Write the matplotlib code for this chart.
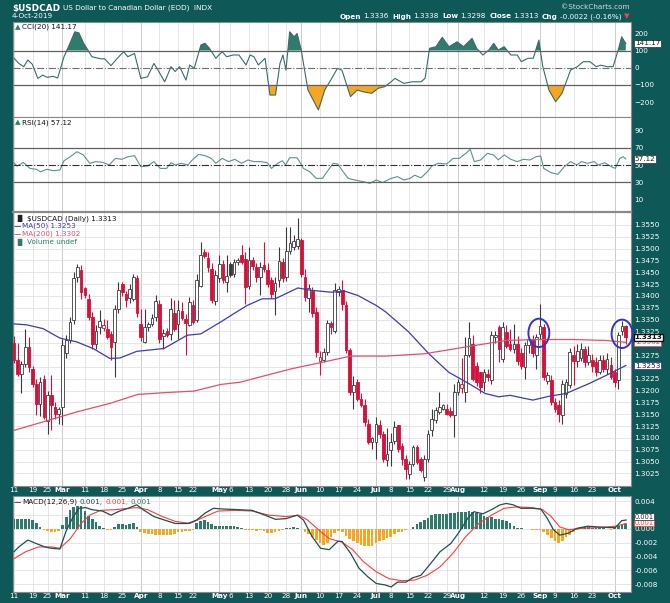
"""StockCharts-style USDCAD daily chart: CCI, RSI, candles with MAs, MACD."""
import matplotlib
matplotlib.use("Agg")
import matplotlib.pyplot as plt
import matplotlib.transforms as mtransforms
import numpy as np
import pandas as pd
from matplotlib.patches import Ellipse

plt.rcParams["font.family"] = ["DejaVu Sans"]

# ---- data (prices in pips above 1.3000) -------------------------------------
HOLIDAYS = ["2019-02-18", "2019-04-19", "2019-05-27", "2019-07-04", "2019-09-02"]

opens = [300, 265, 236, 257, 292, 245, 213, 172, 225, 135, 190, 165, 151,
         165, 280, 306, 350, 440, 454, 417, 393, 356, 299, 334, 332, 331, 320, 303, 373, 426, 405, 395, 394, 437,
         341, 303, 334, 341, 356, 382, 315, 327, 320, 365, 340, 368, 351, 338, 380, 349, 421, 493, 480, 456, 389,
         438, 468, 430, 468, 447, 472, 486, 479, 421, 475, 461, 440, 466, 454, 433, 410, 433, 472, 440, 494, 503, 505,
         518, 440, 396, 410, 366, 262, 264, 282, 342, 327, 408, 412, 380, 285, 197, 218, 183, 169, 130, 92,
         92, 127, 109, 53, 74, 93, 127, 84, 56, 24, 46, 81, 56, 18, 56, 116, 137, 155, 162, 162, 157, 148,
         197, 205, 197, 275, 299, 253, 239, 218, 236, 222, 313, 334, 267, 324, 299, 289, 299, 280, 250, 296, 310, 275,
         320, 334, 220, 222, 176, 169, 148, 193, 211, 275, 262, 268, 289, 260, 265, 260, 239, 264, 245, 255,
         239, 222, 325, 336]
highs = [316, 300, 262, 331, 313, 252, 225, 229, 234, 199, 232, 175, 165,
         310, 318, 356, 451, 468, 465, 420, 405, 366, 338, 370, 352, 349, 327, 380, 430, 430, 410, 426, 447, 445,
         373, 373, 345, 362, 402, 391, 331, 333, 396, 391, 391, 387, 362, 398, 391, 447, 515, 500, 493, 470, 455,
         486, 475, 487, 472, 478, 480, 507, 493, 503, 482, 470, 472, 513, 470, 440, 440, 503, 480, 546, 546, 528, 565,
         522, 458, 426, 420, 376, 284, 290, 350, 348, 428, 422, 433, 390, 290, 230, 225, 195, 183, 140, 103,
         144, 137, 115, 120, 110, 136, 128, 90, 63, 52, 85, 85, 60, 63, 117, 162, 165, 197, 172, 172, 165, 215,
         225, 268, 314, 345, 318, 260, 240, 245, 245, 327, 325, 338, 345, 338, 330, 340, 315, 290, 303, 300, 318, 320,
         384, 340, 240, 232, 185, 180, 222, 225, 290, 295, 299, 300, 295, 295, 278, 270, 275, 275, 280, 270,
         246, 324, 348, 338]
lows = [258, 230, 194, 250, 240, 208, 148, 146, 140, 109, 116, 140, 130,
        127, 268, 300, 340, 430, 394, 395, 350, 289, 289, 320, 325, 310, 264, 229, 365, 400, 377, 385, 390, 355,
        305, 301, 325, 336, 348, 300, 289, 314, 306, 325, 310, 350, 275, 336, 340, 344, 418, 480, 451, 385, 380,
        430, 428, 409, 440, 440, 465, 468, 384, 415, 455, 430, 401, 450, 420, 395, 359, 420, 430, 432, 488, 498, 500,
        440, 390, 366, 355, 270, 232, 260, 275, 320, 322, 400, 370, 280, 190, 162, 178, 165, 125, 88, 77,
        56, 100, 50, 40, 40, 88, 70, 42, 14, 14, 40, 45, 28, 10, 50, 105, 132, 150, 158, 148, 145, 102,
        190, 195, 175, 270, 220, 210, 195, 200, 220, 215, 300, 260, 260, 290, 284, 280, 255, 245, 225, 280, 270, 246,
        310, 222, 215, 170, 155, 134, 130, 185, 205, 211, 250, 262, 250, 255, 240, 230, 235, 240, 235, 225,
        207, 204, 318, 298]
closes = [265, 236, 257, 292, 249, 213, 172, 218, 144, 190, 170, 151, 161,
          296, 306, 345, 437, 461, 408, 401, 356, 299, 327, 348, 338, 313, 292, 373, 412, 408, 391, 415, 440, 363,
          313, 334, 341, 353, 389, 310, 322, 318, 373, 331, 370, 354, 342, 387, 345, 433, 486, 485, 461, 391, 445,
          468, 433, 442, 445, 472, 475, 472, 419, 475, 463, 440, 461, 458, 426, 405, 428, 473, 437, 496, 512, 516, 520,
          447, 398, 417, 363, 282, 270, 282, 342, 335, 412, 415, 384, 285, 197, 211, 183, 169, 134, 92, 99,
          130, 109, 56, 67, 92, 123, 77, 56, 35, 46, 81, 50, 32, 56, 109, 141, 158, 165, 169, 151, 149, 197,
          219, 215, 275, 311, 225, 218, 208, 239, 229, 317, 318, 289, 334, 295, 289, 299, 262, 252, 296, 310, 280, 313,
          337, 229, 232, 176, 162, 151, 215, 218, 282, 262, 283, 289, 260, 275, 253, 239, 264, 245, 266, 229,
          218, 317, 337, 313]

ma50_days = [0, 3.4, 7.8, 12.3, 16.8, 21.2, 25.7, 28.4, 32.9, 40.2, 46.4, 50.1, 55.4, 59.0, 62.5, 66.5, 70.0,
             76.1, 79.6, 85.0, 88.7, 92.2, 97.1, 99.7, 101.3, 105.8, 111.2, 116.5, 121.9, 126.3, 129.9, 133.0,
             139.1, 143.4, 148.0, 154.2, 158.7, 162.2, 164]
ma50_vals = [341, 339, 331, 311, 303, 289, 268, 269, 283, 289, 317, 320, 345, 363, 380, 394, 394,
             417, 412, 408, 410, 401, 380, 366, 355, 324, 278, 239, 215, 194, 187, 190,
             180, 188, 194, 215, 232, 246, 253]
ma200_days = [0, 7.8, 16.8, 25.7, 33.2, 41.0, 48.3, 55.4, 60.8, 66.5, 74.3, 83.3, 90.3, 99.7, 110.2, 120.9,
              131.9, 140.8, 149.9, 158.7, 164]
ma200_vals = [116, 134, 155, 173, 192, 196, 199, 213, 218, 230, 246, 261, 273, 273, 278, 292,
              306, 308, 308, 306, 302]

cci_days = [0, 1.3, 2.6, 3.7, 4.9, 6.4, 7.7, 8.9, 10.5, 11.7,
            13.4, 14.6, 16.3, 17.4, 18.6, 20.9, 23.2, 24.3, 26.0, 27.7,
            29.4, 30.5, 32.3, 34.0, 35.8, 37.5, 38.6, 40.4, 42.1, 43.2,
            44.4, 46.1, 47.1, 48.3, 50.1, 51.2, 52.4, 54.1, 55.8, 57.0,
            58.7, 60.3, 62.2, 63.3, 64.3, 65.5, 67.3, 68.6, 70.1, 71.3,
            72.1, 72.9, 73.9, 75.1, 75.9, 77.0, 78.8, 81.6, 83.3, 84.9,
            86.7, 87.9, 90.2, 92.0, 93.6, 95.9, 97.6, 99.4, 101.1, 102.1,
            104.5, 106.7, 109.1, 110.2, 111.4, 113.1, 114.8, 116.6, 118.8, 120.5,
            122.8, 124.0, 125.7, 127.3, 128.6, 129.8, 131.4, 133.2, 134.9, 136.0,
            137.8, 139.2, 140.7, 141.7, 143.4, 145.2, 146.9, 149.2, 151.0, 152.6,
            154.4, 156.1, 157.3, 159.0, 160.6, 162.1, 162.9, 164.0]
cci_vals = [55, 25, 6, 45, 20, -62, -43, -56, -50, -60,
            64, 122, 209, 203, 145, 64, 52, 52, 12, 55,
            93, 64, 83, -62, -53, 25, -14, -82, 6, -22,
            6, -72, 16, -4, 132, 142, 113, 55, 93, 64,
            74, 74, 16, 74, 64, 16, 55, -159, -159, 25,
            74, -14, 209, 180, 199, 103, -130, -246, -130, -72,
            -4, -14, -168, -130, -140, -149, -120, -110, -82, -62,
            -91, -82, -82, -62, 113, 122, 177, 122, 151, 122,
            171, 113, 74, 103, 142, 103, 122, 74, 74, 35,
            55, 55, 161, 12, -130, -198, -149, -14, 6, 35,
            35, 6, 15, 6, 6, 113, 180, 141.17]

rsi_days = [0, 0.8, 2.5, 4.3, 6.0, 7.1, 8.8, 10.6, 12.3, 13.4,
            15.1, 16.9, 18.6, 20.3, 22.0, 23.8, 25.5, 27.2, 28.9, 30.6,
            32.3, 34.0, 35.8, 37.5, 39.2, 40.9, 42.1, 43.2, 44.9, 46.6,
            47.8, 49.5, 51.2, 52.9, 54.1, 55.8, 57.5, 59.2, 61.0, 62.7,
            64.4, 66.1, 67.9, 69.0, 70.7, 71.9, 72.8, 73.9, 75.9, 77.6,
            79.3, 81.0, 82.7, 83.9, 85.6, 86.8, 87.9, 89.6, 91.3, 93.6,
            95.4, 97.1, 98.8, 101.1, 102.8, 104.5, 106.2, 107.4, 109.1, 110.8,
            112.0, 113.7, 116.0, 117.7, 119.4, 121.1, 122.3, 123.4, 125.1, 126.9,
            128.6, 129.8, 131.4, 133.2, 134.9, 136.6, 138.3, 140.0, 141.2, 142.0,
            144.0, 145.8, 147.5, 149.2, 150.9, 152.1, 153.8, 155.5, 156.6, 158.4,
            160.1, 161.2, 162.4, 163.3, 164.0]
rsi_vals = [52.7, 48.8, 53, 46, 45, 42, 45, 43.3, 44.1, 55,
            59.8, 65.6, 61.8, 52, 54, 53.1, 50, 57.8, 56.7, 59.8,
            61, 48, 48.8, 54, 46, 46, 52.7, 50, 52, 50,
            55.9, 62.5, 61, 57.8, 52, 57.8, 54, 56.7, 52, 55.9,
            54, 54, 52.7, 46, 52, 55, 50, 58.6, 58.6, 46,
            42, 34.3, 34.3, 42, 52, 51.2, 44, 34.3, 32.4, 30.4,
            28.5, 32.4, 29.4, 34.3, 36.3, 32.4, 34.3, 38, 35, 42,
            48.8, 52, 51.2, 57.8, 57.8, 63.7, 68.4, 54, 55.9, 63.7,
            61.8, 56, 61.8, 56.7, 54, 56.7, 55.9, 59.8, 60.6, 46,
            41, 39, 48, 54, 50, 54, 52, 54, 50, 52.7,
            48, 46, 57.8, 59.8, 57.12]

# MACD values in units of 0.001
macd_days = [0, 1.3, 3.7, 5.9, 8.3, 10.0, 12.3, 13.9, 15.7, 17.4,
             19.2, 20.9, 23.7, 26.0, 28.3, 30.6, 32.9, 34.6, 37.5, 40.3,
             43.2, 46.6, 49.0, 51.2, 53.5, 55.8, 60.3, 63.8, 67.3, 70.1,
             72.9, 75.9, 77.6, 79.9, 82.2, 84.5, 86.8, 87.9, 90.2, 92.5,
             94.8, 97.1, 99.4, 101.1, 102.8, 105.1, 106.8, 109.1, 111.4, 114.2,
             117.1, 119.4, 121.7, 123.3, 125.7, 128.0, 130.3, 132.0, 133.8, 135.9,
             138.9, 141.2, 142.9, 144.6, 146.3, 148.6, 150.9, 153.8, 156.6, 159.5,
             161.2, 162.9, 164.1]
macd_vals = [-3.3, -2.6, -1.6, -2.1, -2.6, -2.8, -2.9, -0.4, 1.6, 3.0,
             3.1, 2.8, 2.6, 2.0, 2.6, 3.0, 3.5, 2.8, 1.8, 1.3,
             0.8, 0.8, 1.3, 2.3, 3.0, 2.9, 2.8, 2.7, 2.0, 1.4,
             1.5, 2.0, 1.3, -1.1, -2.8, -3.0, -1.8, -1.8, -3.5, -5.7,
             -6.9, -7.9, -8.1, -8.4, -7.7, -7.7, -7.1, -6.7, -5.2, -3.3,
             -2.1, -0.4, 1.6, 2.5, 2.2, 2.8, 3.5, 3.7, 3.5, 3.0,
             3.0, 2.9, 1.6, -0.1, -0.9, -0.6, 0.1, 0.4, 0.3, 0.2,
             0.2, 1.2, 1.3]
signal_days = [0, 3.1, 6.6, 10.0, 12.3, 15.1, 18.0, 20.3, 23.2, 27.1,
               30.6, 32.9, 35.8, 39.8, 43.2, 47.2, 51.2, 54.7, 59.2, 63.8,
               68.4, 72.9, 76.4, 78.7, 81.6, 84.5, 87.9, 90.8, 93.6, 97.1,
               100.5, 103.9, 107.4, 110.8, 114.2, 117.7, 121.1, 124.6, 128.0, 131.4,
               134.9, 138.9, 141.7, 144.0, 146.3, 148.6, 152.0, 156.6, 161.2, 164.1]
signal_vals = [-4.3, -3.3, -2.6, -2.6, -2.8, -1.4, 0.8, 2.0, 2.7, 2.8,
               3.0, 3.1, 2.8, 1.8, 1.1, 0.8, 1.8, 2.6, 2.7, 2.6,
               2.0, 1.8, 2.0, 1.3, -0.1, -1.4, -1.9, -3.0, -4.7, -6.2,
               -7.2, -7.5, -7.4, -6.7, -5.5, -3.5, -1.1, 0.8, 2.0, 3.0,
               3.2, 3.1, 2.8, 1.8, 0.3, -0.1, 0.1, 0.2, 0.4, 0.8]
hist_vals = [1.4, 1.5, 1.5, 1.5, 1.4, 1.3, 0.8, 0.3, -0.2, -0.3,
             -0.4, -0.4, -0.3, 0.6, 1.8, 2.7, 3.2, 3.4, 3.3, 2.6,
             1.9, 1.4, 1.0, 0.5, 0.2, -0.2, -0.1, 0.3, 0.7, 0.7,
             0.6, 0.7, 0.8, 0.3, -0.4, -0.6, -0.7, -0.7, -0.8, -0.8,
             -0.9, -0.8, -0.8, -0.7, -0.5, -0.4, -0.3, -0.3, -0.2, 0.8,
             1.2, 1.3, 1.0, 0.7, 0.5, 0.5, 0.5, 0.5, 0.4, 0.4,
             0.3, 0.1, -0.2, -0.1, -0.2, -0.3, -0.2, -0.3, -0.6, -0.6,
             -0.5, -0.3, -0.1, 0.1, 0.2, 0.3, 0.2, 0.0, -0.4, -0.7,
             -1.1, -1.6, -2.0, -2.3, -2.0, -1.2, -0.6, -0.3, -0.5, -1.0,
             -1.5, -1.8, -2.1, -2.3, -2.4, -2.5, -2.4, -2.1, -1.8, -1.6,
             -1.3, -1.1, -0.7, -0.5, -0.4, -0.2, 0.0, 0.3, 0.7, 1.0,
             1.3, 1.6, 2.0, 2.1, 2.2, 2.2, 2.2, 2.3, 2.3, 2.4,
             2.5, 2.5, 2.6, 2.4, 2.3, 2.1, 1.9, 1.8, 1.7, 1.5,
             1.4, 1.3, 1.1, 0.8, 0.5, 0.2, 0.1, 0.0, 0.0, -0.1,
             -0.1, -0.1, -0.4, -0.8, -1.3, -1.7, -2.0, -1.7, -1.2, -0.9,
             -0.4, -0.1, 0.1, 0.3, 0.3, 0.2, 0.2, 0.1, 0.1, 0.0,
             -0.2, 0.1, 0.4, 0.6, 0.7]

tick_dates = ["2019-02-11", "2019-02-19", "2019-02-25", "2019-03-01", "2019-03-11", "2019-03-18",
              "2019-03-25", "2019-04-01", "2019-04-08", "2019-04-15", "2019-04-22", "2019-05-01",
              "2019-05-06", "2019-05-13", "2019-05-20", "2019-05-28", "2019-06-03", "2019-06-10",
              "2019-06-17", "2019-06-24", "2019-07-01", "2019-07-08", "2019-07-15", "2019-07-22",
              "2019-07-29", "2019-08-01", "2019-08-12", "2019-08-19", "2019-08-26", "2019-09-03",
              "2019-09-09", "2019-09-16", "2019-09-23", "2019-10-01"]
tick_labels = ["11", "19", "25", "Mar", "11", "18", "25", "Apr", "8", "15", "22", "May", "6", "13",
               "20", "28", "Jun", "10", "17", "24", "Jul", "8", "15", "22", "29", "Aug", "12", "19",
               "26", "Sep", "9", "16", "23", "Oct"]

# annotation circles (trading day, price)
circle_days = [140.7, 163.0]
circle_prices = [1.3322, 1.3320]

# ---- styling ------------------------------------------------------------------
TEAL = "#0e5858"
RED = "#d6103c"
BLUE = "#3c3cb0"
MA_RED = "#e0506a"
FILL_TEAL = "#2f7b6c"
ORANGE = "#f5a623"
GRID = "#e2e2e2"
FS = 5.2
W_PX, H_PX = 670, 603
LEFT, RIGHT = 12.7, 631.0

dates = pd.bdate_range("2019-02-11", "2019-10-04", freq="C", holidays=HOLIDAYS)
tick_idx = dates.get_indexer(pd.to_datetime(tick_dates))
month_tick = [not lab.isdigit() for lab in tick_labels]

o = 1.3 + np.array(opens) / 1e4
h = 1.3 + np.array(highs) / 1e4
l = 1.3 + np.array(lows) / 1e4
c = 1.3 + np.array(closes) / 1e4
days = np.arange(len(c))

fig = plt.figure(figsize=(W_PX / 100, H_PX / 100), dpi=100, facecolor=TEAL)


def panel(top, bottom):
    ax = fig.add_axes([LEFT / W_PX, 1 - bottom / H_PX, (RIGHT - LEFT) / W_PX, (bottom - top) / H_PX])
    ax.set_facecolor("white")
    ax.set_xlim(-0.35, 165.4)
    for s in ax.spines.values():
        s.set_color("#8a8a8a")
        s.set_linewidth(0.8)
    ax.yaxis.tick_right()
    ax.tick_params(axis="y", length=0, pad=2.5, labelsize=FS, labelcolor="white")
    ax.tick_params(axis="x", length=0, pad=1.2, labelsize=FS, labelcolor="white")
    for t, is_month in zip(tick_idx, month_tick):
        ax.axvline(t, color="#c4c4c4" if is_month else GRID, lw=0.6, zorder=0)
    ax.set_xticks(tick_idx)
    ax.set_xticklabels([])
    return ax


def date_labels(ax):
    ax.set_xticklabels(tick_labels)
    for lab, is_month in zip(ax.get_xticklabels(), month_tick):
        if is_month:
            lab.set_fontweight("bold")


def pieces(x_px, y_px, parts, size=FS):
    r = fig.canvas.get_renderer()
    x = x_px
    for s, weight, color, gap in parts:
        t = fig.text(x / W_PX, 1 - y_px / H_PX, s, fontsize=size, fontweight=weight,
                     color=color, va="center", ha="left")
        x += t.get_window_extent(r).width + gap


def tag(ax, y, text, edge, color, lw=0.6, weight="normal", z=5, size=FS):
    tr = mtransforms.blended_transform_factory(ax.transAxes, ax.transData)
    ax.text(1.006, y, text, transform=tr, fontsize=size, color=color, fontweight=weight,
            va="center", ha="left", clip_on=False, zorder=z,
            bbox=dict(boxstyle="square,pad=0.08", fc="white", ec=edge, lw=lw))


# ---- CCI -----------------------------------------------------------------------
ax1 = panel(22, 116.7)
cd, cv = np.array(cci_days), np.array(cci_vals)
ax1.fill_between(cd, cv, 100, where=cv > 100, interpolate=True, color=FILL_TEAL, lw=0)
ax1.fill_between(cd, cv, -100, where=cv < -100, interpolate=True, color=ORANGE, lw=0)
ax1.plot(cd, cv, color="#3d6a6a", lw=0.8)
ax1.axhline(100, color="#606060", lw=0.9)
ax1.axhline(-100, color="#606060", lw=0.9)
ax1.axhline(0, color="#707070", lw=0.8, ls="-.")
ax1.set_ylim(-285, 266)
ax1.set_yticks([-200, -100, 0, 100, 200])
tag(ax1, cci_vals[-1], "141.17", "#404040", "#222222")

# ---- RSI -----------------------------------------------------------------------
ax2 = panel(116.7, 212.3)
ax2.plot(rsi_days, rsi_vals, color="#5f8f8f", lw=0.8)
ax2.axhline(70, color="#606060", lw=0.9)
ax2.axhline(30, color="#606060", lw=0.9)
ax2.axhline(50, color="#303030", lw=0.8, ls="-.")
ax2.set_ylim(-5.6, 106.8)
ax2.set_yticks([10, 30, 50, 70, 90])
tag(ax2, rsi_vals[-1], "57.12", "#404040", "#222222")

# ---- price ---------------------------------------------------------------------
ax3 = panel(212.3, 485.7)
ax3.set_ylim(1.29991, 1.35768)
price_ticks = np.arange(1.3025, 1.35501, 0.0025)
ax3.set_yticks(price_ticks)
# the value tags on the right cover the 1.3300 and 1.3250 labels
ax3.set_yticklabels(["" if abs(v - 1.33) < 1e-6 or abs(v - 1.325) < 1e-6 else f"{v:.4f}"
                     for v in price_ticks])
for v in price_ticks:
    ax3.axhline(v, color=GRID, lw=0.6, zorder=0)
ax3.spines["top"].set_linewidth(1.6)

prev = np.concatenate([[o[0]], c[:-1]])
line_col = np.where(c >= prev, "#3a3a3a", RED)
face_col = np.where(c < o, line_col, "white")
ax3.vlines(days, l, h, colors=line_col, lw=0.8, zorder=2)
body = np.maximum(np.abs(c - o), 0.00006)
ax3.bar(days, body, bottom=np.minimum(o, c), width=0.72, color=face_col,
        edgecolor=line_col, linewidth=0.6, zorder=3)
ax3.plot(ma50_days, 1.3 + np.array(ma50_vals) / 1e4, color=BLUE, lw=0.9, zorder=4)
ax3.plot(ma200_days, 1.3 + np.array(ma200_vals) / 1e4, color=MA_RED, lw=0.9, zorder=4)
for d, p in zip(circle_days, circle_prices):
    ax3.add_patch(Ellipse((d, p), 5.6, 0.0060, fill=False, ec="#3434c8", lw=1.4,
                          zorder=6, clip_on=False))
tag(ax3, 1.3302, "1.3302", MA_RED, MA_RED, z=4)
tag(ax3, 1.3313, "1.3313", "#111111", "#111111", lw=1.0, weight="bold", z=6)
tag(ax3, 1.3253, "1.3253", BLUE, "#222222", z=5)
date_labels(ax3)

# ---- MACD ----------------------------------------------------------------------
ax4 = panel(496, 591.7)
hv = np.array(hist_vals) / 1e3
ax4.bar(days, hv, width=0.72, color=np.where(hv >= 0, FILL_TEAL, ORANGE),
        edgecolor="none", zorder=2)
ax4.plot(signal_days, np.array(signal_vals) / 1e3, color="#ff3b3b", lw=0.8, zorder=3)
ax4.plot(macd_days, np.array(macd_vals) / 1e3, color="#1f4f4f", lw=0.9, zorder=4)
ax4.set_ylim(-0.00909, 0.00478)
macd_ticks = np.arange(-0.008, 0.0041, 0.002)
ax4.set_yticks(macd_ticks)
# the 0.002 label sits behind the value tags
ax4.set_yticklabels(["" if 0.0019 < v < 0.0021 else f"{v:.3f}".replace("-0.000", "0.000")
                     for v in macd_ticks])
for v in macd_ticks:
    ax4.axhline(v, color=GRID, lw=0.6, zorder=0)
tag(ax4, 0.0009, "0.001", "#ff3b3b", "#ff3b3b", z=4, size=4.8)
tag(ax4, 0.0018, "0.001", "#404040", "#222222", z=5, size=4.8)
date_labels(ax4)

# ---- header and panel legends --------------------------------------------------
fig.text(12 / W_PX, 1 - 8 / H_PX, "$USDCAD", fontsize=6.4, fontweight="bold",
         color="white", va="center")
fig.text(63 / W_PX, 1 - 8 / H_PX, "US Dollar to Canadian Dollar (EOD)  INDX", fontsize=FS,
         color="white", va="center")
fig.text(12 / W_PX, 1 - 16.5 / H_PX, "4-Oct-2019", fontsize=FS, color="white", va="center")
fig.text(630 / W_PX, 1 - 7 / H_PX, "\u00a9StockCharts.com", fontsize=FS, color="#cfdede",
         va="center", ha="right")
pieces(340, 16.5, [("Open", "bold", "white", 1.5), ("1.3336", "normal", "white", 4),
                   ("High", "bold", "white", 1.5), ("1.3338", "normal", "white", 4),
                   ("Low", "bold", "white", 1.5), ("1.3298", "normal", "white", 4),
                   ("Close", "bold", "white", 1.5), ("1.3313", "normal", "white", 4),
                   ("Chg", "bold", "white", 1.5), ("-0.0022 (-0.16%)", "normal", "white", 3),
                   ("\u25bc", "normal", "#ff4040", 0)])

pieces(15, 27, [("\u25b2", "normal", FILL_TEAL, 1.5), ("CCI(20) 141.17", "normal", "#111111", 0)])
pieces(15, 122.5, [("\u25b2", "normal", FILL_TEAL, 1.5), ("RSI(14) 57.12", "normal", "#111111", 0)])
pieces(14, 218.3, [("\u2590\u258c", "normal", "#222222", 1.5),
                   ("$USDCAD (Daily) 1.3313", "normal", "#111111", 0)])
pieces(14, 226.2, [("\u2014", "bold", BLUE, 1), ("MA(50) 1.3253", "normal", BLUE, 0)])
pieces(14, 234.2, [("\u2014", "bold", MA_RED, 1), ("MA(200) 1.3302", "normal", MA_RED, 0)])
pieces(14, 242.2, [("\u2590\u258c", "normal", FILL_TEAL, 1.5), ("Volume undef", "normal", FILL_TEAL, 0)])
pieces(14, 501.7, [("\u2014", "bold", "#1f4f4f", 1), ("MACD(12,26,9)", "normal", "#111111", 2.5),
                   ("0.001,", "normal", "#1f4f4f", 2.5), ("0.001,", "normal", "#ff3b3b", 2.5),
                   ("0.001", "normal", FILL_TEAL, 0)])

fig.savefig("out.png", dpi=100, facecolor=TEAL)
